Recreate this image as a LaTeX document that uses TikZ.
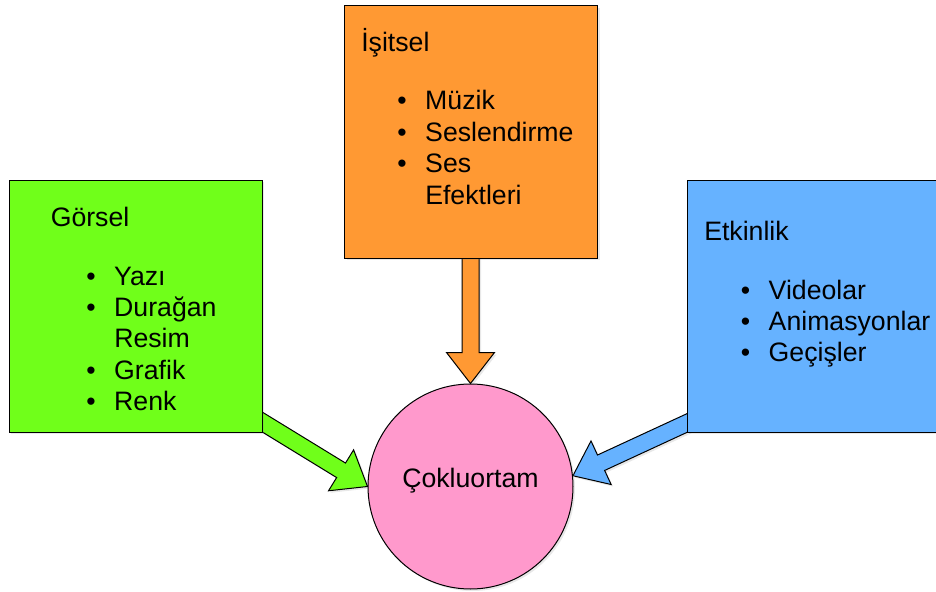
\documentclass[tikz,border=0pt]{standalone}
\usepackage{fontspec}
\setmainfont{Liberation Sans}
\usepackage{xcolor}
\usepackage{tikz}
\usetikzlibrary{positioning,calc,shadows,backgrounds}

\definecolor{gorselgreen}{HTML}{70FF1A}
\definecolor{isitselorange}{HTML}{FF9933}
\definecolor{etkinlikblue}{HTML}{66B2FF}
\definecolor{coklpink}{HTML}{FF99CC}

% block arrow: #1 style, #2 start, #3 tip
\newcommand{\blockarrow}[3]{%
    \coordinate (ah) at ($(#3)!23.25pt!(#2)$);
    \filldraw[#1] ($(#2)!6.375pt!90:(#3)$) -- ($(ah)!6.375pt!90:(#3)$) -- ($(ah)!18pt!90:(#3)$) -- (#3)
        -- ($(ah)!18pt!-90:(#3)$) -- ($(ah)!6.375pt!-90:(#3)$) -- ($(#2)!6.375pt!-90:(#3)$) -- cycle;
}

\begin{document}
\begin{tikzpicture}[x=0.75pt, y=-0.75pt, font=\fontsize{20}{23.6}\selectfont,
    shade/.style={drop shadow={opacity=0.18, shadow xshift=1.5pt, shadow yshift=-1.5pt}},
    box/.style={draw=black, line width=0.75pt, anchor=north west, inner sep=0pt,
        minimum width=189.75pt, minimum height=189pt, shade},
    title/.style={anchor=base west, inner sep=0pt},
    items/.style={anchor=base west, inner sep=0pt},
    flow/.style={draw=black, line width=0.75pt, line join=miter, shade}]
    \useasboundingbox (0,0) rectangle (936,592);
    \clip (0,0) rectangle (936,592);

    % Boxes
    \node[box, fill=gorselgreen] (gorsel) at (8.5,179.5) {};
    \node[box, fill=isitselorange] (isitsel) at (344,5.5) {};
    \node[box, fill=etkinlikblue] (etkinlik) at (686.5,179.5) {};
    \node[circle, draw=black, line width=0.75pt, fill=coklpink, minimum size=153.75pt, inner sep=0pt, shade] (cokl) at (470.5,486.5) {};

    % Görsel
    \node[title] (gorselT) at (50.5,226.7) {Görsel};
    \node[items] (gorselL) at (86,285) {\begin{tabular}[t]{@{}p{21pt}@{}l@{}}
        \textbullet & Yazı\\ \textbullet & Durağan\\ & Resim\\ \textbullet & Grafik\\ \textbullet & Renk
    \end{tabular}};

    % İşitsel
    \node[title] (isitselT) at (361,51.7) {İşitsel};
    \node[items] (isitselL) at (397,110) {\begin{tabular}[t]{@{}p{21pt}@{}l@{}}
        \textbullet & Müzik\\ \textbullet & Seslendirme\\ \textbullet & Ses\\ & Efektleri
    \end{tabular}};

    % Etkinlik
    \node[title] (etkinlikT) at (704,240.7) {Etkinlik};
    \node[items] (etkinlikL) at (740.5,299) {\begin{tabular}[t]{@{}p{21pt}@{}l@{}}
        \textbullet & Videolar\\ \textbullet & Animasyonlar\\ \textbullet & Geçişler
    \end{tabular}};

    \node[anchor=base, inner sep=0pt] (coklT) at (470.5,487) {Çokluortam};

    % Arrows (behind the boxes)
    \begin{scope}[on background layer]
        \coordinate (gorselA) at (240.5,408.7);
        \coordinate (isitselA) at (470.5,245);
        \coordinate (etkinlikA) at (708,413.3);
        \blockarrow{flow, fill=gorselgreen}{gorselA}{cokl.west}
        \blockarrow{flow, fill=isitselorange}{isitselA}{cokl.north}
        \blockarrow{flow, fill=etkinlikblue}{etkinlikA}{cokl.6}
    \end{scope}
\end{tikzpicture}
\end{document}
